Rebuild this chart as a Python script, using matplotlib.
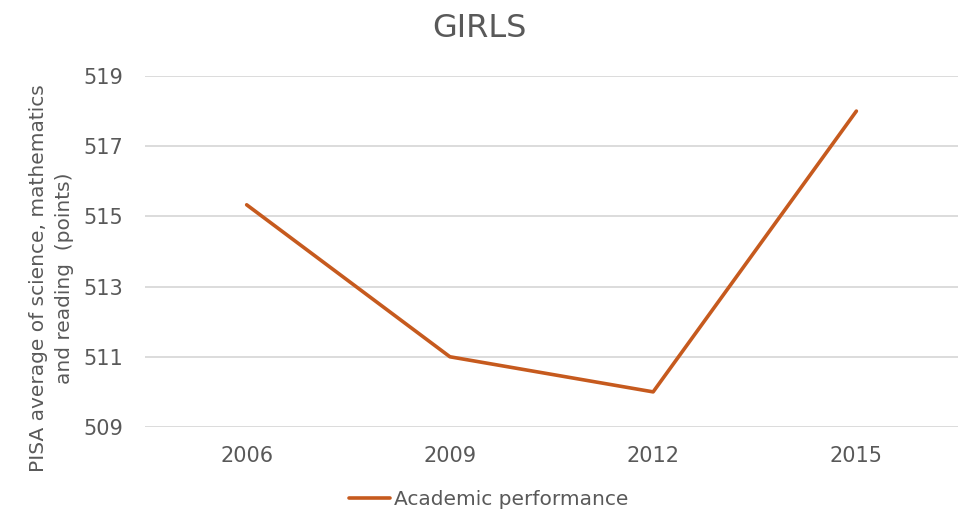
import numpy as np
import matplotlib
matplotlib.use('Agg')
import matplotlib.pyplot as plt

years = ['2006', '2009', '2012', '2015']
performance = [515.33, 511.0, 510.0, 518.0]
y_ticks = [509, 511, 513, 515, 517, 519]

text_col = '#595959'
line_col = '#C65A1E'
grid_col = '#D9D9D9'

plt.rcParams['font.family'] = ['DejaVu Sans']

fig = plt.figure(figsize=(9.58, 5.19), dpi=100)
ax = fig.add_axes([0.1514, 0.1773, 0.8486, 0.6763])

x = np.arange(len(years))
ax.plot(x, performance, color=line_col, linewidth=2.6, solid_capstyle='round',
        label='Academic performance')

ax.set_xlim(-0.5, len(years) - 0.5)
ax.set_ylim(509, 519)
ax.set_yticks(y_ticks)
ax.set_xticks(x)
ax.set_xticklabels(years)
ax.yaxis.grid(True, color=grid_col, linewidth=1.3)
ax.set_axisbelow(True)
for s in ax.spines.values():
    s.set_visible(False)
ax.tick_params(axis='both', length=0, labelsize=15, colors=text_col)
ax.tick_params(axis='y', pad=16)
ax.tick_params(axis='x', pad=14)

ax.set_ylabel('PISA average of science, mathematics\nand reading  (points)',
              fontsize=14.5, color=text_col, linespacing=1.45)
ax.yaxis.set_label_coords(-0.088, 0.425)

fig.suptitle('GIRLS', fontsize=23, color=text_col, y=0.975)

leg = fig.legend(loc='lower center', bbox_to_anchor=(0.51, -0.015), frameon=False,
                 fontsize=14.5, handlelength=2.0, handletextpad=0.2)
for t in leg.get_texts():
    t.set_color(text_col)

fig.savefig('out.png', dpi=100)
